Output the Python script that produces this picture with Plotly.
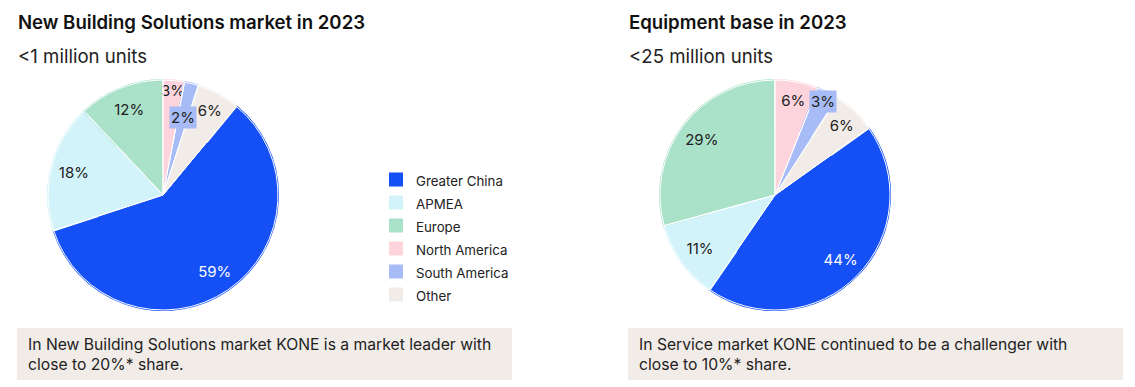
import math
import plotly.graph_objects as go

W, H = 1135, 387

regions = ["Greater China", "APMEA", "Europe", "North America", "South America", "Other"]
colors = ["#1450F5", "#D3F3FB", "#A9E1C9", "#FDD3DC", "#A7BCF7", "#F1ECE8"]

nbs_values = [59, 18, 12, 3, 2, 6]
equip_values = [44, 11, 29, 6, 3, 6]

titles = ["New Building Solutions market in 2023", "Equipment base in 2023"]
subtitles = ["&lt;1 million units", "&lt;25 million units"]
notes = [
    "In New Building Solutions market KONE is a market leader with<br>close to 20%* share.",
    "In Service market KONE continued to be a challenger with<br>close to 10%* share.",
]

FONT = "Inter, Noto Sans, sans-serif"


def px_x(v):
    return v / W


def px_y(v):
    return 1 - v / H


def rotation_for(values):
    # first slice (Greater China) starts after North America, South America, Other
    tail = sum(values[3:])
    return tail / sum(values) * 360


legend_labels = ["<span style='font-size:13.3px'>%s</span>" % r for r in regions]
SA = regions.index("South America")

fig = go.Figure()

pies = [
    dict(values=nbs_values, x0=48, legend="legend", sa_r=0.70),
    dict(values=equip_values, x0=660, legend="legend2", sa_r=0.91),
]

annotations = []

for p in pies:
    vals = p["values"]
    dom = dict(x=[px_x(p["x0"]), px_x(p["x0"] + 230)], y=[px_y(310), px_y(80)])
    rot = rotation_for(vals)
    # full pie underneath (no text)
    fig.add_trace(go.Pie(
        labels=legend_labels, values=vals, sort=False, direction="clockwise",
        rotation=rot,
        marker=dict(colors=colors, line=dict(color=colors, width=0)),
        textinfo="none", domain=dom, legend=p["legend"], showlegend=False,
        hoverinfo="skip",
    ))
    # ring carrying the labels further out (also provides the legend)
    textcolors = ["#FFFFFF"] + ["#222222"] * (len(vals) - 1)
    templates = ["%{value}%"] * len(vals)
    templates[SA] = " "
    fig.add_trace(go.Pie(
        labels=legend_labels, values=vals, sort=False, direction="clockwise",
        rotation=rot, hole=0.6,
        marker=dict(colors=colors, line=dict(color=colors, width=2)),
        texttemplate=templates,
        textposition="inside",
        insidetextorientation="horizontal",
        textfont=dict(family=FONT, size=15, color=textcolors),
        domain=dom, legend=p["legend"],
        hovertemplate="%{value}%<extra></extra>",
    ))
    # white separators on top
    fig.add_trace(go.Pie(
        labels=legend_labels, values=vals, sort=False, direction="clockwise",
        rotation=rot,
        marker=dict(colors=["rgba(0,0,0,0)"] * len(vals), line=dict(color="#FFFFFF", width=1)),
        textinfo="none", domain=dom, legend=p["legend"], showlegend=False,
        hoverinfo="skip",
    ))
    # South America label with a slice-coloured box, at the slice's mid angle
    total = sum(vals)
    start = sum(vals[3:SA]) / total * 360
    mid = math.radians(start + vals[SA] / total * 180)
    cx, cy, R = p["x0"] + 115, 195, 115
    lx = cx + p["sa_r"] * R * math.sin(mid)
    ly = cy - p["sa_r"] * R * math.cos(mid)
    annotations.append(dict(text="%d%%" % vals[SA], xref="paper", yref="paper",
                            x=px_x(lx), y=px_y(ly), xanchor="center", yanchor="middle",
                            showarrow=False, bgcolor=colors[SA], borderpad=1,
                            font=dict(family=FONT, size=15, color="#222222")))

legend_common = dict(
    font=dict(family=FONT, size=15.4, color="#222222"),
    bgcolor="rgba(0,0,0,0)",
    xanchor="left",
    yanchor="top",
    y=px_y(163),
    itemclick=False,
    itemdoubleclick=False,
)

shapes = []
for i, (bx0, bx1) in enumerate([(17, 512), (628, 1123)]):
    shapes.append(dict(type="rect", xref="paper", yref="paper",
                       x0=px_x(bx0), x1=px_x(bx1), y0=px_y(380), y1=px_y(328),
                       fillcolor="#F1ECE8", line=dict(width=0), layer="below"))
    annotations.append(dict(text=notes[i], xref="paper", yref="paper",
                            x=px_x(bx0 + 9), y=px_y(354), xanchor="left", yanchor="middle",
                            align="left", showarrow=False,
                            font=dict(family=FONT, size=15.7, color="#222222")))
    tx = 16 if i == 0 else 627
    annotations.append(dict(text=titles[i], xref="paper", yref="paper",
                            x=px_x(tx), y=px_y(22), xanchor="left", yanchor="middle",
                            showarrow=False,
                            font=dict(family=FONT, size=18.6, color="#111111", weight=600)))
    annotations.append(dict(text=subtitles[i], xref="paper", yref="paper",
                            x=px_x(tx), y=px_y(56), xanchor="left", yanchor="middle",
                            showarrow=False, font=dict(family=FONT, size=18.6, color="#222222")))

fig.update_layout(
    width=W, height=H,
    margin=dict(l=0, r=0, t=0, b=0),
    paper_bgcolor="#FFFFFF",
    plot_bgcolor="#FFFFFF",
    showlegend=True,
    legend=dict(x=px_x(376), **legend_common),
    legend2=dict(x=px_x(987), **legend_common),
    uniformtext=dict(minsize=15, mode="show"),
    shapes=shapes,
    annotations=annotations,
)

fig.write_html("out.html", post_script="document.body.style.margin='0';",
               config={"displayModeBar": False})
